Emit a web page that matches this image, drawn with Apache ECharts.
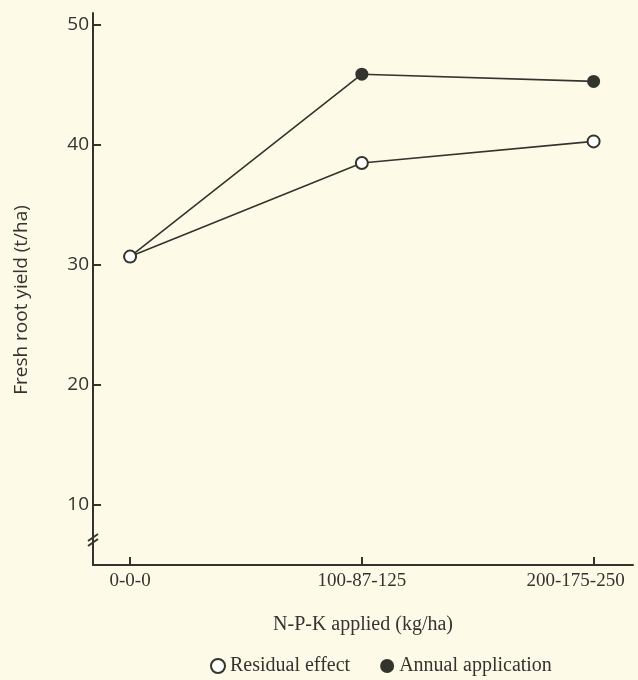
<!DOCTYPE html>
<html>
<head>
<meta charset="utf-8">
<script src="https://cdn.jsdelivr.net/npm/echarts@6/dist/echarts.min.js"></script>
<style>
  html, body { margin: 0; padding: 0; background: #fdfbe8; }
  #chart { width: 638px; height: 680px; }
</style>
</head>
<body>
<div id="chart"></div>
<script>
// N-P-K rates (kg/ha), placed at x = 0, 1, 2
const categories = ['0-0-0', '100-87-125', '200-175-250']
const catIndex = [0, 1, 2]
const residual = [30.7, 38.5, 40.3]
const annual = [30.7, 45.9, 45.3]
const yTicks = [10, 20, 30, 40, 50]

const ink = '#34342e'
const bg = '#fdfbe8'
const serif = '"Liberation Serif", "DejaVu Serif", serif'
const sans = '"Open Sans", "DejaVu Sans", sans-serif'

const chart = echarts.init(document.getElementById('chart'))

chart.setOption({
  backgroundColor: bg,
  animation: false,
  grid: { left: 93, right: 5, top: 13, bottom: 115 },
  legend: {
    data: [
      { name: 'Residual effect', icon: 'circle' },
      { name: 'Annual application', icon: 'circle' }
    ],
    left: 205,
    top: 651,
    itemWidth: 14,
    itemHeight: 14,
    itemGap: 30,
    textStyle: { fontFamily: serif, fontSize: 20, color: ink }
  },
  xAxis: {
    type: 'value',
    min: -0.16,
    max: 2.17,
    name: 'N-P-K applied (kg/ha)',
    nameLocation: 'middle',
    nameGap: 50,
    nameTextStyle: { fontFamily: serif, fontSize: 20, color: ink },
    splitLine: { show: false },
    axisLine: { onZero: false, lineStyle: { color: ink, width: 2 } },
    axisTick: { inside: true, length: 8, customValues: catIndex, lineStyle: { color: ink, width: 2 } },
    axisLabel: {
      customValues: catIndex,
      margin: 7,
      fontFamily: serif,
      fontSize: 19,
      color: ink,
      formatter: v => v === 2 ? '{last|' + categories[v] + '}' : categories[v],
      rich: { last: { fontFamily: serif, fontSize: 19, color: ink, padding: [0, 36, 0, 0] } }
    }
  },
  yAxis: {
    type: 'value',
    min: 5,
    max: 51,
    name: 'Fresh root yield (t/ha)',
    nameLocation: 'middle',
    nameGap: 62,
    nameTextStyle: { fontFamily: sans, fontSize: 19, color: ink, padding: [0, 22, 0, 0] },
    splitLine: { show: false },
    axisLine: { onZero: false, lineStyle: { color: ink, width: 2 } },
    axisTick: { inside: true, length: 8, customValues: yTicks, lineStyle: { color: ink, width: 2 } },
    axisLabel: { customValues: yTicks, margin: 4, fontFamily: sans, fontSize: 19, color: ink }
  },
  graphic: [
    { type: 'line', shape: { x1: 88, y1: 541, x2: 98, y2: 534 }, style: { stroke: ink, lineWidth: 2 } },
    { type: 'line', shape: { x1: 88, y1: 546, x2: 98, y2: 539 }, style: { stroke: ink, lineWidth: 2 } }
  ],
  series: [
    {
      name: 'Annual application',
      type: 'line',
      data: catIndex.map((x, i) => [x, annual[i]]),
      symbol: 'circle',
      symbolSize: 13,
      lineStyle: { color: ink, width: 1.6 },
      itemStyle: { color: ink }
    },
    {
      name: 'Residual effect',
      type: 'line',
      data: catIndex.map((x, i) => [x, residual[i]]),
      symbol: 'circle',
      symbolSize: 12,
      lineStyle: { color: ink, width: 1.6 },
      itemStyle: { color: '#ffffff', borderColor: ink, borderWidth: 2 }
    }
  ]
})
</script>
</body>
</html>
